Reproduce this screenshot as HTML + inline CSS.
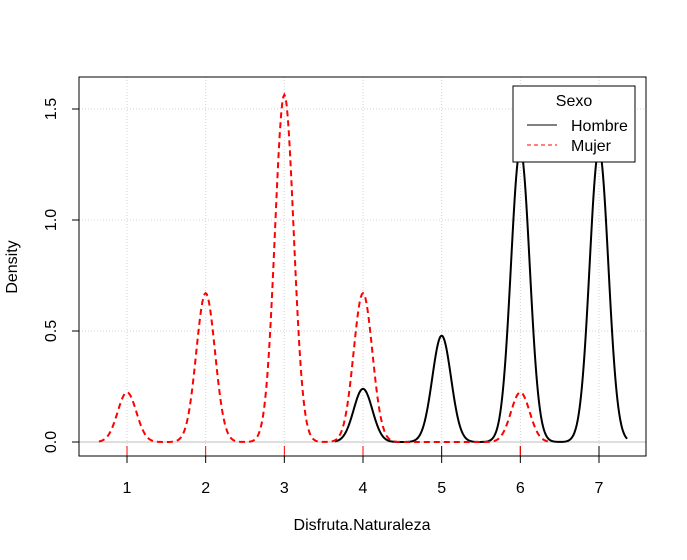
<!DOCTYPE html>
<html><head><meta charset="utf-8"><style>
body{margin:0;background:#fff}
svg text{font-family:"Liberation Sans",sans-serif;font-size:16px;fill:#000}
</style></head><body>
<svg id="chart" width="687" height="555" viewBox="0 0 687 555"></svg>
<script>
const xTicks=[1,2,3,4,5,6,7];
const yTicks=[0,0.5,1.0,1.5];
const yTickLabels=["0.0","0.5","1.0","1.5"];
const hombreValues=[4,5,6,7];
const hombreCounts=[1,2,5.5,5.5];
const mujerValues=[1,2,3,4,6];
const mujerCounts=[1,3,7,3,1];
const bandwidth=0.119;

const L=79,R=646,T=77,B=456;
function X(v){return 127+(v-1)*(599-127)/6;}
function Y(v){return 442-v*(442-109)/1.5;}
const svg=document.getElementById('chart');
const NS='http://www.w3.org/2000/svg';
function mk(t,a,p){const e=document.createElementNS(NS,t);for(const k in a)e.setAttribute(k,a[k]);(p||svg).appendChild(e);return e;}

xTicks.forEach(v=>{const g=mk('line',{x1:X(v),x2:X(v),y1:T,y2:B,stroke:'#d3d3d3','stroke-dasharray':'1,2'});

});
yTicks.forEach(v=>{const g=mk('line',{x1:L,x2:R,y1:Y(v),y2:Y(v),stroke:'#d3d3d3','stroke-dasharray':'1,2'});

});
const base=mk('line',{x1:L,x2:R,y1:Y(0),y2:Y(0),stroke:'#bebebe','stroke-width':1});



function density(vals,cnts,color,dash,name){
  const n=cnts.reduce((a,b)=>a+b,0);
  const lo=Math.min(...vals)-3*bandwidth,hi=Math.max(...vals)+3*bandwidth;
  let d='';
  for(let i=0;i<=400;i++){const x=lo+(hi-lo)*i/400;let s=0;
    vals.forEach((v,j)=>{s+=cnts[j]*Math.exp(-0.5*((x-v)/bandwidth)**2);});
    s/=n*Math.sqrt(2*Math.PI)*bandwidth;
    d+=(i?'L':'M')+X(x).toFixed(2)+','+Y(s).toFixed(2);}
  const p=mk('path',{d:d,fill:'none',stroke:color,'stroke-width':2});
  if(dash)p.setAttribute('stroke-dasharray',dash);
  
  
  vals.forEach(v=>{const r=mk('line',{x1:X(v),x2:X(v),y1:446,y2:456,stroke:color,'stroke-width':1});
  
  });
}
density(hombreValues,hombreCounts,'#000',null,'hombre-density-line');
density(mujerValues,mujerCounts,'#ff0000','6,4','mujer-density-line');

const box=mk('rect',{x:L,y:T,width:R-L,height:B-T,fill:'none',stroke:'#000'});



xTicks.forEach(v=>{const t=mk('line',{x1:X(v),x2:X(v),y1:B,y2:B+7,stroke:'#000'});


const l=mk('text',{x:X(v),y:493,'text-anchor':'middle'});l.textContent=v;

});
yTicks.forEach((v,i)=>{const t=mk('line',{x1:L,x2:L-7,y1:Y(v),y2:Y(v),stroke:'#000'});


const l=mk('text',{x:0,y:0,'text-anchor':'middle',transform:`translate(56,${Y(v)}) rotate(-90)`});l.textContent=yTickLabels[i];

});
</script>
<svg width="687" height="555" style="position:absolute;left:0;top:0">
<text x="362" y="530" text-anchor="middle">Disfruta.Naturaleza</text>
<text transform="translate(17,267) rotate(-90)" text-anchor="middle">Density</text>
<g>
<rect x="513" y="86" width="122" height="76" fill="#fff" stroke="#000"/>
<text x="574" y="106" text-anchor="middle">Sexo</text>
<line x1="527" y1="125" x2="557" y2="125" stroke="#000"/>
<text x="571" y="131">Hombre</text>
<line x1="527" y1="145" x2="557" y2="145" stroke="#ff0000" stroke-dasharray="4,3"/>
<text x="571" y="151">Mujer</text>
</g>
</svg>
</body></html>
